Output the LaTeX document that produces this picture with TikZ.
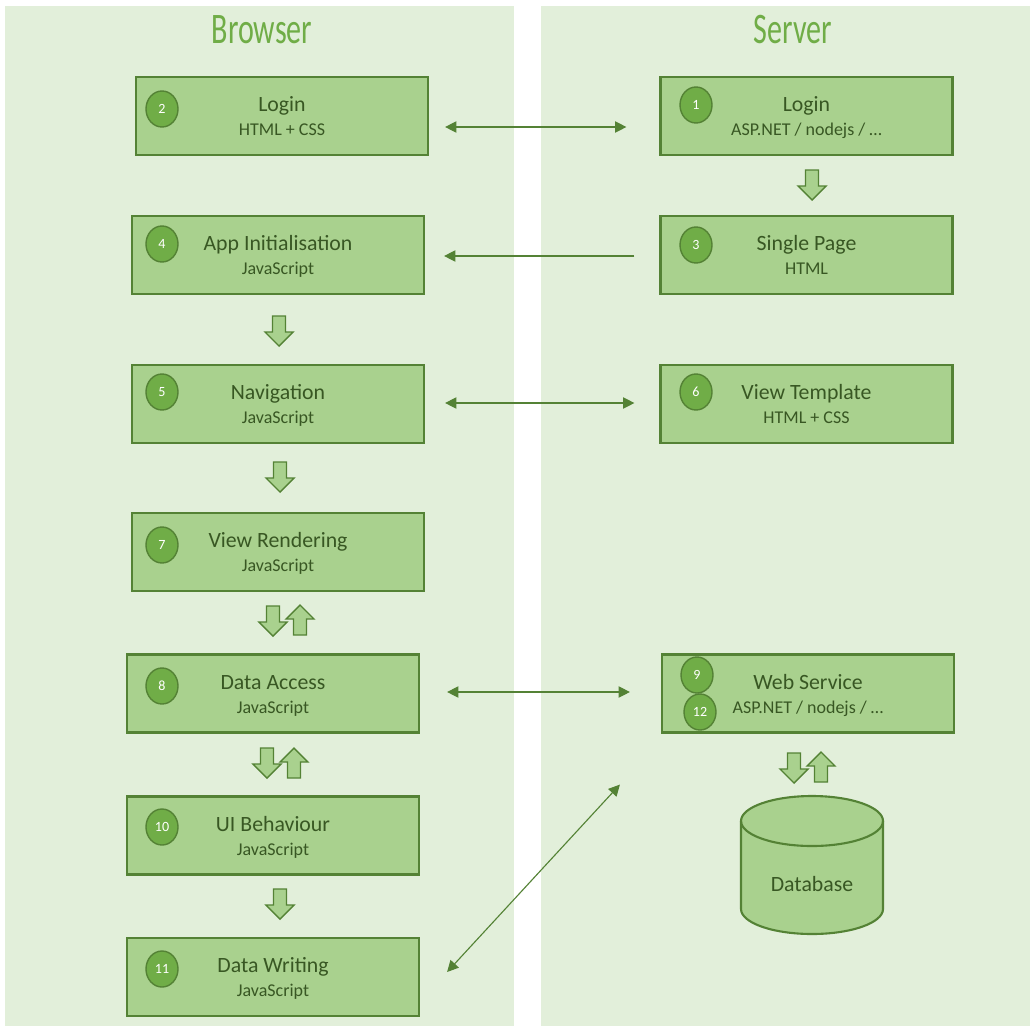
\documentclass[tikz,border=0pt]{standalone}
\usepackage{fontspec}
\setmainfont{Carlito}
\usetikzlibrary{arrows.meta,shapes.geometric}
\definecolor{lanebg}{RGB}{226,239,218}
\definecolor{stagefill}{RGB}{169,209,142}
\definecolor{stageline}{RGB}{84,130,53}
\definecolor{stagetext}{RGB}{56,87,35}
\definecolor{headgreen}{RGB}{112,173,71}
\definecolor{dotfill}{RGB}{112,173,71}
\newcommand{\stagetitle}[1]{{\fontsize{15.5}{17}\selectfont #1}}
\tikzset{
  lane/.style={fill=lanebg, draw=none},
  lanetitle/.style={text=headgreen, font=\fontsize{31}{36}\selectfont, xscale=0.69, inner sep=0pt},
  stage/.style={draw=stageline, fill=stagefill, line width=1.5pt, minimum width=7.3cm, minimum height=1.95cm,
    inner sep=0pt, align=center, text=stagetext, font=\fontsize{12.8}{17}\selectfont, text height=28pt, text depth=0pt},
  stepno/.style={ellipse, draw=stageline, fill=dotfill, line width=1pt, minimum width=0.8cm, minimum height=0.9cm,
    inner sep=0pt, text=white, font=\fontsize{10}{12}\selectfont},
  link/.style={stageline, line width=0.8pt, {Triangle[length=8pt,width=8pt]}-{Triangle[length=8pt,width=8pt]}},
  oneway/.style={stageline, line width=0.8pt, -{Triangle[length=8pt,width=8pt]}},
  blockdn/.pic={\draw[stageline, fill=stagefill, line width=1pt] (-6.5,-15) -- (6.5,-15) -- (6.5,1) -- (14,1) -- (0,15) -- (-14,1) -- (-6.5,1) -- cycle;},
  blockup/.pic={\draw[stageline, fill=stagefill, line width=1pt] (-6.5,15) -- (6.5,15) -- (6.5,-1) -- (14,-1) -- (0,-15) -- (-14,-1) -- (-6.5,-1) -- cycle;}
}
\begin{document}
\begin{tikzpicture}[x=0.025cm, y=-0.025cm]
\fill[white] (0,0) rectangle (1030,1026);
\useasboundingbox (0,0) rectangle (1030,1026);
% Lanes
\fill[lane] (5,6) rectangle (514,1026);
\fill[lane] (541,6) rectangle (1030,1026);
\node[lanetitle] (browserhd) at (262,30) {Browser};
\node[lanetitle] (serverhd) at (793,30) {Server};

% Browser side
\node[stage] (blogin) at (282,116) {\stagetitle{Login}\\HTML + CSS};
\node[stage] (binit) at (278,255) {\stagetitle{App Initialisation}\\JavaScript};
\node[stage] (bnav) at (278,404) {\stagetitle{Navigation}\\JavaScript};
\node[stage] (brender) at (278,552) {\stagetitle{View Rendering}\\JavaScript};
\node[stage] (baccess) at (273,693.5) {\stagetitle{Data Access}\\JavaScript};
\node[stage] (bui) at (273,835.5) {\stagetitle{UI Behaviour}\\JavaScript};
\node[stage] (bwrite) at (273,977) {\stagetitle{Data Writing}\\JavaScript};

% Server side
\node[stage] (slogin) at (806.5,116) {\stagetitle{Login}\\ASP.NET / nodejs / …};
\node[stage] (spage) at (806.5,255) {\stagetitle{Single Page}\\HTML};
\node[stage] (stemplate) at (806.5,404) {\stagetitle{View Template}\\HTML + CSS};
\node[stage] (sweb) at (808,693.5) {\stagetitle{Web Service}\\ASP.NET / nodejs / …};

% Database
\draw[stageline, fill=stagefill, line width=1.5pt] (741,821) -- (741,909) arc[start angle=180, end angle=0, x radius=71, y radius=25]
  -- (883,821) arc[start angle=0, end angle=-180, x radius=71, y radius=25] -- cycle;
\draw[stageline, line width=1.5pt] (741,821) arc[start angle=180, end angle=0, x radius=71, y radius=25];
\node[text=stagetext, font=\fontsize{15.5}{17}\selectfont] (db) at (812,884) {Database};

% Step numbers
\foreach \x/\y/\n in {162/109/2, 162/244/4, 162/392/5, 162/545/7, 162/686/8, 162/827/10, 162/969/11,
                      696/105/1, 696/245/3, 696/392/6, 697/675/9, 700/712/12} {
  \node[stepno] (n\n) at (\x,\y) {\n};
}

% Block arrows
\foreach \x/\y in {812/185, 279/331, 280/477, 273/621, 267/763, 280/904, 794/768} {
  \pic at (\x,\y) {blockdn};
}
\foreach \x/\y in {300/620, 294/763, 821/767} {
  \pic at (\x,\y) {blockup};
}

% Requests
\draw[link] ([shift={(16,11)}]blogin.east) -- ([shift={(-33,11)}]slogin.west);
\draw[oneway] ([shift={(-25,1)}]spage.west) -- ([shift={(19,1)}]binit.east);
\draw[link] ([shift={(20,-1)}]bnav.east) -- ([shift={(-25,-1)}]stemplate.west);
\draw[link] ([shift={(27,-1.5)}]baccess.east) -- ([shift={(-31,-1.5)}]sweb.west);
\draw[link] ([shift={(27,-5)}]bwrite.east) -- ([shift={(-41,51)}]sweb.south west);
\end{tikzpicture}
\end{document}
